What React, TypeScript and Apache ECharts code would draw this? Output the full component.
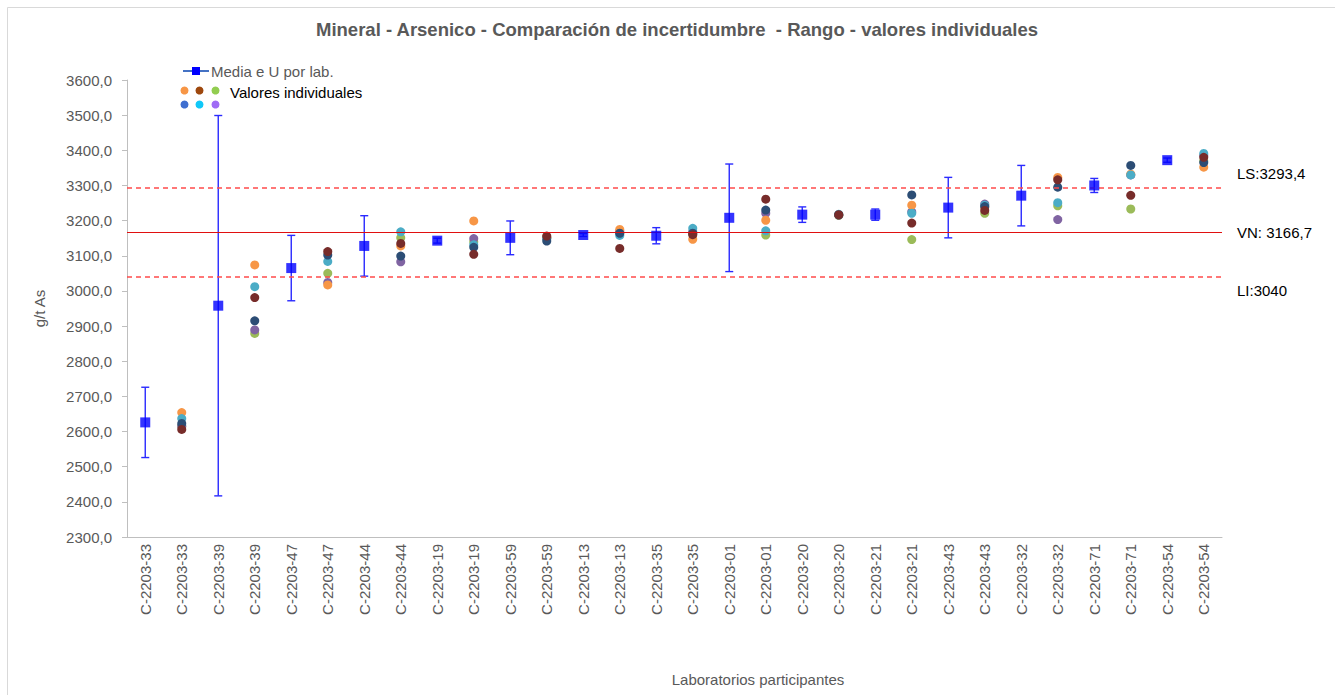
import React, { useEffect, useRef } from "react";
import * as echarts from "echarts";

const categories = [
  "C-2203-33", "C-2203-33", "C-2203-39", "C-2203-39", "C-2203-47", "C-2203-47",
  "C-2203-44", "C-2203-44", "C-2203-19", "C-2203-19", "C-2203-59", "C-2203-59",
  "C-2203-13", "C-2203-13", "C-2203-35", "C-2203-35", "C-2203-01", "C-2203-01",
  "C-2203-20", "C-2203-20", "C-2203-21", "C-2203-21", "C-2203-43", "C-2203-43",
  "C-2203-32", "C-2203-32", "C-2203-71", "C-2203-71", "C-2203-54", "C-2203-54",
];

// Mean and expanded uncertainty per lab (positions 0,2,4,...)
const meanIdx = [0, 2, 4, 6, 8, 10, 12, 14, 16, 18, 20, 22, 24, 26, 28];
const means = [2626, 2958, 3065, 3128, 3143, 3151, 3159, 3157, 3208, 3217, 3217, 3237, 3271, 3300, 3372];
const uncert = [100, 541, 93, 86, 7, 48, 4, 23, 153, 22, 16, 86, 86, 20, 6];

// Individual values (positions 1,3,5,...)
const indivIdx = [1, 3, 5, 7, 9, 11, 13, 15, 17, 19, 21, 23, 25, 27, 29];
const valsOrange = [2654, 3074, 3017, 3128, 3199, 3153, 3175, 3147, 3201, 3216, 3244, 3238, 3323, 3332, 3352];
const valsRed = [2606, 2981, 3112, 3135, 3104, 3156, 3121, 3160, 3261, 3217, 3193, 3229, 3316, 3272, 3380];
const valsGreen = [2615, 2879, 3050, 3151, 3140, 3150, 3165, 3162, 3159, 3215, 3146, 3221, 3242, 3233, 3370];
const valsBlue = [2623, 2915, 3102, 3099, 3124, 3142, 3164, 3164, 3230, 3216, 3273, 3240, 3295, 3357, 3365];
const valsTeal = [2637, 3012, 3084, 3168, 3131, 3150, 3158, 3178, 3171, 3218, 3221, 3244, 3251, 3330, 3391];
const valsPurple = [2615, 2889, 3024, 3083, 3149, 3152, 3170, 3168, 3221, 3217, 3225, 3247, 3203, 3330, 3385];

const LS = 3293.4;
const VN = 3166.7;
const LI = 3040;

const FONT = "Liberation Sans, Arial, sans-serif";

export default function App() {
  const ref = useRef<HTMLDivElement>(null);
  useEffect(() => {
    if (!ref.current) return;
    const chart = echarts.init(ref.current, undefined, { renderer: "svg" });
    const fmt = (v: number) => v.toFixed(1).replace(".", ",");
    const indivSeries = [
      { name: "green", data: valsGreen, color: "#9BBB59" },
      { name: "purple", data: valsPurple, color: "#8064A2" },
      { name: "orange", data: valsOrange, color: "#F79646" },
      { name: "teal", data: valsTeal, color: "#4BACC6" },
      { name: "blue", data: valsBlue, color: "#2C4D75" },
      { name: "red", data: valsRed, color: "#772C2A" },
    ].map((s) => ({
      type: "scatter",
      name: s.name,
      symbol: "circle",
      symbolSize: 9,
      itemStyle: { color: s.color, opacity: 1 },
      data: s.data.map((v, i) => [indivIdx[i], v]),
      z: 3,
    }));

    const baseGraphic: any[] = [
      { type: "rect", shape: { x: 7.5, y: 7.5, width: 1340, height: 700 }, style: { fill: "none", stroke: "#D9D9D9", lineWidth: 1 }, silent: true, z: -10 },
      { type: "line", shape: { x1: 183, y1: 71, x2: 209, y2: 71 }, style: { stroke: "#4472C4", lineWidth: 2 } },
      { type: "rect", shape: { x: 192, y: 67, width: 8, height: 8 }, style: { fill: "#0000FF" } },
      { type: "text", x: 211, y: 71, style: { text: "Media e U por lab.", fill: "#595959", fontSize: 15, fontFamily: FONT, verticalAlign: "middle" } },
      { type: "circle", shape: { cx: 184.5, cy: 90.5, r: 4 }, style: { fill: "#F79646" } },
      { type: "circle", shape: { cx: 199.5, cy: 90.5, r: 4 }, style: { fill: "#9E480E" } },
      { type: "circle", shape: { cx: 215.5, cy: 90.5, r: 4 }, style: { fill: "#92CD50" } },
      { type: "circle", shape: { cx: 184.5, cy: 104.5, r: 4 }, style: { fill: "#3F6FD0" } },
      { type: "circle", shape: { cx: 199.5, cy: 104.5, r: 4 }, style: { fill: "#10C8F8" } },
      { type: "circle", shape: { cx: 215.5, cy: 104.5, r: 4 }, style: { fill: "#9F6CF5" } },
      { type: "text", x: 230, y: 92, style: { text: "Valores individuales", fill: "#000000", fontSize: 15, fontFamily: FONT, verticalAlign: "middle" } },
      { type: "text", x: 758, y: 679, style: { text: "Laboratorios participantes", fill: "#595959", fontSize: 15, fontFamily: FONT, align: "center", verticalAlign: "middle" } },
    ];

    const option: any = {
      animation: false,
      backgroundColor: "#ffffff",
      textStyle: { fontFamily: FONT },
      title: {
        text: "Mineral - Arsenico - Comparación de incertidumbre  - Rango - valores individuales",
        left: 677,
        textAlign: "center",
        top: 20,
        padding: 0,
        textStyle: { fontFamily: FONT, fontSize: 18.5, fontWeight: "bold", color: "#595959" },
      },
      grid: { left: 127, right: 113, top: 80, bottom: 158, containLabel: false },
      xAxis: {
        type: "category",
        data: categories,
        boundaryGap: true,
        axisLine: { lineStyle: { color: "#BFBFBF" } },
        axisTick: { show: false },
        axisLabel: { rotate: 90, interval: 0, color: "#595959", fontSize: 15, fontFamily: FONT, margin: 7 },
        splitLine: { show: false },
      },
      yAxis: {
        type: "value",
        min: 2300,
        max: 3600,
        interval: 100,
        name: "g/t As",
        nameLocation: "middle",
        nameRotate: 90,
        nameGap: 80,
        nameTextStyle: { color: "#595959", fontSize: 15, fontFamily: FONT },
        axisLine: { show: true, lineStyle: { color: "#BFBFBF" } },
        axisTick: { show: true, inside: false, length: 5, lineStyle: { color: "#BFBFBF" } },
        axisLabel: { color: "#595959", fontSize: 15, fontFamily: FONT, margin: 15, formatter: fmt },
        splitLine: { show: false },
      },
      graphic: baseGraphic,
      series: [
        ...indivSeries,
        {
          type: "custom",
          name: "errbar",
          data: means.map((m, i) => [meanIdx[i], m - uncert[i], m + uncert[i]]),
          encode: { x: 0, y: [1, 2] },
          z: 4,
          renderItem: (params: any, api: any) => {
            const x = api.value(0);
            const lo = api.coord([x, api.value(1)]);
            const hi = api.coord([x, api.value(2)]);
            const w = 4;
            const style = { stroke: "#2A2AFF", lineWidth: 1.4 };
            return {
              type: "group",
              children: [
                { type: "line", shape: { x1: lo[0], y1: lo[1], x2: hi[0], y2: hi[1] }, style },
                { type: "line", shape: { x1: hi[0] - w, y1: hi[1], x2: hi[0] + w, y2: hi[1] }, style },
                { type: "line", shape: { x1: lo[0] - w, y1: lo[1], x2: lo[0] + w, y2: lo[1] }, style },
              ],
            };
          },
        },
        {
          type: "scatter",
          name: "Media e U por lab.",
          symbol: "rect",
          symbolSize: 10,
          itemStyle: { color: "#0000FF" },
          data: means.map((m, i) => [meanIdx[i], m]),
          z: 5,
          markLine: {
            silent: true,
            symbol: "none",
            animation: false,
            label: { show: false },
            data: [
              { yAxis: LS, lineStyle: { color: "#FF4B4B", type: [5, 4], width: 1.5 } },
              { yAxis: VN, lineStyle: { color: "#E01010", type: "solid", width: 1.2 } },
              { yAxis: LI, lineStyle: { color: "#FF4B4B", type: [5, 4], width: 1.5 } },
            ],
          },
        },
      ],
    };
    chart.setOption(option);

    const py = (v: number) => chart.convertToPixel({ yAxisIndex: 0 }, v) as number;
    const lx = 1237;
    const refLabels = [
      { text: "LS:" + LS.toFixed(1).replace(".", ","), y: py(LS) - 14 },
      { text: "VN: " + VN.toFixed(1).replace(".", ","), y: py(VN) },
      { text: "LI:" + String(LI), y: py(LI) + 14 },
    ].map((l) => ({
      type: "text",
      x: lx,
      y: l.y,
      style: { text: l.text, fill: "#000000", fontSize: 15, fontFamily: FONT, verticalAlign: "middle" },
    }));
    chart.setOption({ graphic: [...baseGraphic, ...refLabels] });

    return () => chart.dispose();
  }, []);
  return <div ref={ref} style={{ position: "fixed", left: 0, top: 0, width: 1335, height: 695 }} />;
}
